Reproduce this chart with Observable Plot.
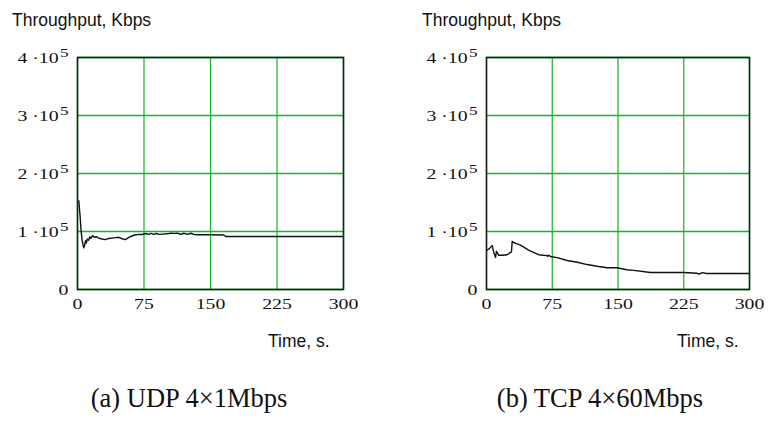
<!DOCTYPE html>
<html>
<head>
<meta charset="utf-8">
<script src="https://cdn.jsdelivr.net/npm/d3@7"></script>
<script src="https://cdn.jsdelivr.net/npm/@observablehq/plot@0.6"></script>
<style>
  html, body { margin: 0; padding: 0; background: #fff; }
  #root { position: relative; width: 770px; height: 421px; overflow: hidden; }
  .panel { position: absolute; top: 0; }
  .ylab, .xlab { position: absolute; font-family: "Liberation Sans", Arial, sans-serif; font-size: 17.5px; line-height: 17px; color: #111; white-space: nowrap; }
  .cap { position: absolute; font-family: "Liberation Serif", "Times New Roman", serif; font-size: 26.5px; line-height: 26px; color: #111; white-space: nowrap; transform: translateX(-50%); }
</style>
</head>
<body>
<div id="root">
  <div class="panel" id="pA" style="left:0px"></div>
  <div class="panel" id="pB" style="left:385px"></div>
  <div class="ylab" style="left:12px; top:12px">Throughput, Kbps</div>
  <div class="ylab" style="left:422px; top:12px">Throughput, Kbps</div>
  <div class="xlab" style="left:268px; top:333px">Time, s.</div>
  <div class="xlab" style="left:677px; top:333px">Time, s.</div>
  <div class="cap" style="left:189px; top:385px">(a) UDP 4×1Mbps</div>
  <div class="cap" style="left:600px; top:385px">(b) TCP 4×60Mbps</div>
</div>
<script>
// ---- Data (Time in s, Throughput in Kbps) ----
const udpTime = [1.5, 3, 4, 5.3, 7, 8, 9, 10, 11, 12.5, 13.9, 15, 17, 19, 21, 24, 27.8, 31.6, 35.3, 41, 46.6, 50.4, 54, 57.9, 63.5, 69, 73, 77, 80, 83, 86, 89, 92, 96, 101, 105, 109, 112.8, 116.5, 120, 124, 128, 131, 135, 150, 165, 167, 300];
const udpThroughput = [153000, 125000, 102000, 84000, 72000, 76000, 84000, 80000, 87000, 85000, 91000, 88000, 93000, 90000, 91000, 88500, 87000, 86000, 88000, 89000, 90000, 87500, 86000, 90000, 93500, 95000, 94800, 96500, 95000, 96800, 95000, 96500, 95000, 95500, 96000, 97000, 96800, 97000, 95000, 97000, 95000, 97000, 95000, 94500, 94300, 94000, 91500, 91500];

const tcpTime = [0.5, 3, 6.5, 8.3, 10.3, 11.4, 12.5, 14, 18, 23.6, 27.4, 28.5, 29.3, 31, 34.2, 38, 42.6, 48, 53.6, 59.5, 65, 69, 70, 71, 73, 80.6, 92, 103.5, 114.9, 126, 137.7, 149, 160, 168, 187, 225, 240, 242.5, 246, 251, 300];
const tcpThroughput = [68000, 70000, 76000, 64000, 55000, 66000, 63000, 59000, 59000, 60000, 64000, 65000, 83000, 81000, 79000, 77000, 73000, 68000, 64000, 60000, 59000, 58500, 57000, 59000, 57000, 55000, 50000, 47000, 43000, 40000, 37500, 37500, 34000, 33000, 29300, 29300, 28000, 26500, 29000, 27500, 27500];

const xTicks = [0, 75, 150, 225, 300];
const yTicks = [0, 100000, 200000, 300000, 400000];
const yTickMantissa = ["0", "1 ·10", "2 ·10", "3 ·10", "4 ·10"];
const yTickExponent = ["", "5", "5", "5", "5"];

const GRID = "#0fb828";
const SERIF = "Liberation Serif, Times New Roman, serif";

function panel(times, values, opts) {
  const data = times.map((t, i) => ({t, v: values[i]}));
  const svg = Plot.plot({
    width: 385,
    height: 320,
    marginLeft: opts.ml,
    marginRight: opts.mr,
    marginTop: 57,
    marginBottom: 31,
    style: {fontFamily: SERIF, fontSize: "15px", color: "#111", background: "transparent"},
    x: {domain: [0, 300], ticks: xTicks, label: null},
    y: {domain: [0, 400000], ticks: yTicks, label: null},
    marks: [
      Plot.gridX(xTicks, {stroke: GRID, strokeOpacity: 1, strokeWidth: 1.2}),
      Plot.gridY(yTicks, {stroke: GRID, strokeOpacity: 1, strokeWidth: 1.5}),
      Plot.axisX(xTicks, {tickSize: 0, tickPadding: 9, fontSize: 15, tickFormat: d => String(d)}),
      Plot.axisY(yTicks, {tickSize: 0, tickPadding: 9, dy: 1, fontSize: 15, tickFormat: d => yTickMantissa[yTicks.indexOf(d)]}),
      Plot.line(data, {x: "t", y: "v", stroke: "#111", strokeWidth: 1.4}),
      Plot.frame({stroke: "#142414", strokeWidth: 1.6})
    ]
  });
  // y tick labels: add raised exponent
  svg.querySelectorAll('g[aria-label="y-axis tick label"] text').forEach(el => {
    const i = yTickMantissa.indexOf(el.textContent);
    if (i > 0 && yTickExponent[i]) {
      const ts = document.createElementNS("http://www.w3.org/2000/svg", "tspan");
      ts.setAttribute("dy", "-6");
      ts.setAttribute("dx", "1");
      ts.setAttribute("font-size", "13");
      ts.textContent = yTickExponent[i];
      el.appendChild(ts);
    }
  });
  // stretch tick labels horizontally (wide serif look of the original)
  svg.querySelectorAll('g[aria-label="x-axis tick label"] text, g[aria-label="y-axis tick label"] text').forEach(el => {
    const tr = el.getAttribute("transform") || "";
    el.setAttribute("transform", `${tr} scale(1.32,1)`);
  });
  return svg;
}

document.getElementById("pA").appendChild(panel(udpTime, udpThroughput, {ml: 77, mr: 42}));
document.getElementById("pB").appendChild(panel(tcpTime, tcpThroughput, {ml: 101, mr: 21}));
</script>
</body>
</html>
